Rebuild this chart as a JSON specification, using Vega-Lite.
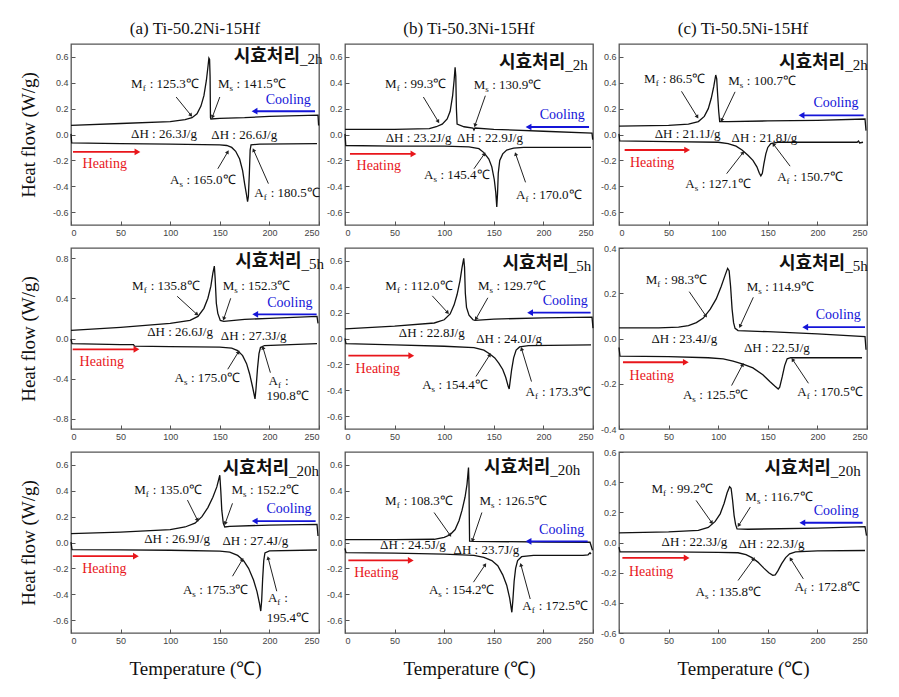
{
"$schema":"https://vega.github.io/schema/vega-lite/v6.json",
"padding":{"left":18,"top":19,"right":5,"bottom":5},
"config":{
 "view":{"stroke":"#555","strokeWidth":1.3},
 "axis":{"domain":false,"grid":false,"labelFont":"Liberation Sans","labelFontSize":9,"labelColor":"#444","tickColor":"#555","tickSize":-4,"labelPadding":7,"titleFont":"Liberation Serif","titleFontSize":19,"titleFontWeight":"normal","titleColor":"#111"},
 "axisY":{"titlePadding":14},
 "axisX":{"titlePadding":14},
 "title":{"font":"Liberation Serif","fontSize":17,"fontWeight":"normal","offset":6,"color":"#111"},
 "text":{"font":"Liberation Serif","fontSize":13,"baseline":"middle","color":"#111"}
},
"datasets":{
"curves":[
{"p":"a2","s":"c","x":0,"y":0.07},{"p":"a2","s":"c","x":50,"y":0.085},{"p":"a2","s":"c","x":100,"y":0.1},{"p":"a2","s":"c","x":115,"y":0.115},{"p":"a2","s":"c","x":122,"y":0.13},{"p":"a2","s":"c","x":127,"y":0.16},{"p":"a2","s":"c","x":131,"y":0.22},{"p":"a2","s":"c","x":134,"y":0.3},{"p":"a2","s":"c","x":136.5,"y":0.42},{"p":"a2","s":"c","x":138,"y":0.52},{"p":"a2","s":"c","x":139,"y":0.59},{"p":"a2","s":"c","x":139.7,"y":0.58},{"p":"a2","s":"c","x":140.2,"y":0.45},{"p":"a2","s":"c","x":140.6,"y":0.13},{"p":"a2","s":"c","x":141,"y":0.12},{"p":"a2","s":"c","x":150,"y":0.125},{"p":"a2","s":"c","x":175,"y":0.13},{"p":"a2","s":"c","x":200,"y":0.14},{"p":"a2","s":"c","x":249,"y":0.15},{"p":"a2","s":"c","x":249.6,"y":0.07},
{"p":"a2","s":"h","x":0,"y":0.005},{"p":"a2","s":"h","x":0.7,"y":-0.065},{"p":"a2","s":"h","x":50,"y":-0.07},{"p":"a2","s":"h","x":100,"y":-0.075},{"p":"a2","s":"h","x":150,"y":-0.08},{"p":"a2","s":"h","x":157,"y":-0.085},{"p":"a2","s":"h","x":162,"y":-0.1},{"p":"a2","s":"h","x":166,"y":-0.13},{"p":"a2","s":"h","x":170,"y":-0.19},{"p":"a2","s":"h","x":173,"y":-0.28},{"p":"a2","s":"h","x":175,"y":-0.38},{"p":"a2","s":"h","x":177,"y":-0.47},{"p":"a2","s":"h","x":178,"y":-0.52},{"p":"a2","s":"h","x":178.8,"y":-0.48},{"p":"a2","s":"h","x":179.8,"y":-0.3},{"p":"a2","s":"h","x":180.6,"y":-0.12},{"p":"a2","s":"h","x":181.5,"y":-0.08},{"p":"a2","s":"h","x":190,"y":-0.075},{"p":"a2","s":"h","x":248,"y":-0.07},
{"p":"b2","s":"c","x":0,"y":0.04},{"p":"b2","s":"c","x":50,"y":0.04},{"p":"b2","s":"c","x":85,"y":0.045},{"p":"b2","s":"c","x":92,"y":0.06},{"p":"b2","s":"c","x":98,"y":0.08},{"p":"b2","s":"c","x":103,"y":0.12},{"p":"b2","s":"c","x":106,"y":0.18},{"p":"b2","s":"c","x":108.5,"y":0.3},{"p":"b2","s":"c","x":110,"y":0.42},{"p":"b2","s":"c","x":111,"y":0.52},{"p":"b2","s":"c","x":111.7,"y":0.45},{"p":"b2","s":"c","x":112.3,"y":0.2},{"p":"b2","s":"c","x":113,"y":0.08},{"p":"b2","s":"c","x":120,"y":0.06},{"p":"b2","s":"c","x":129,"y":0.05},{"p":"b2","s":"c","x":130,"y":0.035},{"p":"b2","s":"c","x":131,"y":0.05},{"p":"b2","s":"c","x":150,"y":0.04},{"p":"b2","s":"c","x":200,"y":0.025},{"p":"b2","s":"c","x":249,"y":0.01},{"p":"b2","s":"c","x":249.7,"y":-0.04},
{"p":"b2","s":"h","x":0,"y":0.005},{"p":"b2","s":"h","x":0.8,"y":-0.085},{"p":"b2","s":"h","x":50,"y":-0.09},{"p":"b2","s":"h","x":100,"y":-0.09},{"p":"b2","s":"h","x":125,"y":-0.095},{"p":"b2","s":"h","x":135,"y":-0.11},{"p":"b2","s":"h","x":140,"y":-0.14},{"p":"b2","s":"h","x":145,"y":-0.19},{"p":"b2","s":"h","x":148,"y":-0.25},{"p":"b2","s":"h","x":150.5,"y":-0.35},{"p":"b2","s":"h","x":152,"y":-0.45},{"p":"b2","s":"h","x":153,"y":-0.56},{"p":"b2","s":"h","x":153.8,"y":-0.45},{"p":"b2","s":"h","x":154.5,"y":-0.3},{"p":"b2","s":"h","x":156,"y":-0.2},{"p":"b2","s":"h","x":159,"y":-0.15},{"p":"b2","s":"h","x":163,"y":-0.12},{"p":"b2","s":"h","x":170,"y":-0.105},{"p":"b2","s":"h","x":180,"y":-0.1},{"p":"b2","s":"h","x":248,"y":-0.1},
{"p":"c2","s":"c","x":0,"y":0.065},{"p":"c2","s":"c","x":50,"y":0.07},{"p":"c2","s":"c","x":70,"y":0.08},{"p":"c2","s":"c","x":80,"y":0.1},{"p":"c2","s":"c","x":86,"y":0.14},{"p":"c2","s":"c","x":90,"y":0.2},{"p":"c2","s":"c","x":93,"y":0.28},{"p":"c2","s":"c","x":95.5,"y":0.37},{"p":"c2","s":"c","x":97.5,"y":0.46},{"p":"c2","s":"c","x":98.5,"y":0.43},{"p":"c2","s":"c","x":99.5,"y":0.3},{"p":"c2","s":"c","x":100.5,"y":0.18},{"p":"c2","s":"c","x":101.5,"y":0.1},{"p":"c2","s":"c","x":110,"y":0.1},{"p":"c2","s":"c","x":150,"y":0.105},{"p":"c2","s":"c","x":200,"y":0.11},{"p":"c2","s":"c","x":248,"y":0.12},{"p":"c2","s":"c","x":249,"y":0.03},
{"p":"c2","s":"h","x":0,"y":0.005},{"p":"c2","s":"h","x":0.7,"y":-0.05},{"p":"c2","s":"h","x":50,"y":-0.055},{"p":"c2","s":"h","x":100,"y":-0.06},{"p":"c2","s":"h","x":110,"y":-0.07},{"p":"c2","s":"h","x":118,"y":-0.09},{"p":"c2","s":"h","x":124,"y":-0.12},{"p":"c2","s":"h","x":130,"y":-0.16},{"p":"c2","s":"h","x":135,"y":-0.2},{"p":"c2","s":"h","x":139,"y":-0.25},{"p":"c2","s":"h","x":141.5,"y":-0.3},{"p":"c2","s":"h","x":143,"y":-0.32},{"p":"c2","s":"h","x":144.5,"y":-0.3},{"p":"c2","s":"h","x":146,"y":-0.23},{"p":"c2","s":"h","x":148,"y":-0.15},{"p":"c2","s":"h","x":150,"y":-0.1},{"p":"c2","s":"h","x":153,"y":-0.07},{"p":"c2","s":"h","x":160,"y":-0.06},{"p":"c2","s":"h","x":240,"y":-0.06},{"p":"c2","s":"h","x":241.5,"y":-0.05},{"p":"c2","s":"h","x":242.5,"y":-0.065},{"p":"c2","s":"h","x":246,"y":-0.06},
{"p":"a5","s":"c","x":0,"y":0.08},{"p":"a5","s":"c","x":50,"y":0.11},{"p":"a5","s":"c","x":100,"y":0.15},{"p":"a5","s":"c","x":120,"y":0.18},{"p":"a5","s":"c","x":128,"y":0.22},{"p":"a5","s":"c","x":134,"y":0.3},{"p":"a5","s":"c","x":138,"y":0.4},{"p":"a5","s":"c","x":141,"y":0.52},{"p":"a5","s":"c","x":143,"y":0.65},{"p":"a5","s":"c","x":144.5,"y":0.72},{"p":"a5","s":"c","x":145.3,"y":0.6},{"p":"a5","s":"c","x":146.5,"y":0.35},{"p":"a5","s":"c","x":148,"y":0.25},{"p":"a5","s":"c","x":150.5,"y":0.18},{"p":"a5","s":"c","x":154,"y":0.17},{"p":"a5","s":"c","x":175,"y":0.19},{"p":"a5","s":"c","x":200,"y":0.2},{"p":"a5","s":"c","x":248,"y":0.22},{"p":"a5","s":"c","x":249,"y":0.15},
{"p":"a5","s":"h","x":0,"y":-0.005},{"p":"a5","s":"h","x":1,"y":-0.05},{"p":"a5","s":"h","x":50,"y":-0.06},{"p":"a5","s":"h","x":63,"y":-0.06},{"p":"a5","s":"h","x":64,"y":-0.075},{"p":"a5","s":"h","x":100,"y":-0.08},{"p":"a5","s":"h","x":150,"y":-0.085},{"p":"a5","s":"h","x":162,"y":-0.095},{"p":"a5","s":"h","x":168,"y":-0.12},{"p":"a5","s":"h","x":173,"y":-0.17},{"p":"a5","s":"h","x":177,"y":-0.25},{"p":"a5","s":"h","x":180,"y":-0.35},{"p":"a5","s":"h","x":183,"y":-0.48},{"p":"a5","s":"h","x":185.5,"y":-0.6},{"p":"a5","s":"h","x":186.5,"y":-0.5},{"p":"a5","s":"h","x":188,"y":-0.3},{"p":"a5","s":"h","x":189.5,"y":-0.15},{"p":"a5","s":"h","x":191,"y":-0.09},{"p":"a5","s":"h","x":195,"y":-0.07},{"p":"a5","s":"h","x":248,"y":-0.05},
{"p":"b5","s":"c","x":0,"y":0.075},{"p":"b5","s":"c","x":50,"y":0.095},{"p":"b5","s":"c","x":90,"y":0.12},{"p":"b5","s":"c","x":100,"y":0.145},{"p":"b5","s":"c","x":106,"y":0.19},{"p":"b5","s":"c","x":110,"y":0.26},{"p":"b5","s":"c","x":113,"y":0.34},{"p":"b5","s":"c","x":116,"y":0.45},{"p":"b5","s":"c","x":118,"y":0.55},{"p":"b5","s":"c","x":119.7,"y":0.62},{"p":"b5","s":"c","x":120.5,"y":0.55},{"p":"b5","s":"c","x":121.3,"y":0.35},{"p":"b5","s":"c","x":122.5,"y":0.24},{"p":"b5","s":"c","x":125,"y":0.18},{"p":"b5","s":"c","x":129,"y":0.145},{"p":"b5","s":"c","x":131,"y":0.14},{"p":"b5","s":"c","x":150,"y":0.15},{"p":"b5","s":"c","x":200,"y":0.16},{"p":"b5","s":"c","x":249,"y":0.165},{"p":"b5","s":"c","x":250,"y":0.08},
{"p":"b5","s":"h","x":0,"y":0.0},{"p":"b5","s":"h","x":1,"y":-0.04},{"p":"b5","s":"h","x":50,"y":-0.05},{"p":"b5","s":"h","x":100,"y":-0.06},{"p":"b5","s":"h","x":130,"y":-0.07},{"p":"b5","s":"h","x":140,"y":-0.09},{"p":"b5","s":"h","x":146,"y":-0.12},{"p":"b5","s":"h","x":151,"y":-0.15},{"p":"b5","s":"h","x":155,"y":-0.19},{"p":"b5","s":"h","x":159,"y":-0.24},{"p":"b5","s":"h","x":162,"y":-0.3},{"p":"b5","s":"h","x":164.5,"y":-0.37},{"p":"b5","s":"h","x":165.5,"y":-0.39},{"p":"b5","s":"h","x":166.5,"y":-0.33},{"p":"b5","s":"h","x":168,"y":-0.24},{"p":"b5","s":"h","x":170,"y":-0.15},{"p":"b5","s":"h","x":172.5,"y":-0.09},{"p":"b5","s":"h","x":176,"y":-0.065},{"p":"b5","s":"h","x":185,"y":-0.055},{"p":"b5","s":"h","x":248,"y":-0.05},
{"p":"c5","s":"c","x":0,"y":0.047},{"p":"c5","s":"c","x":40,"y":0.047},{"p":"c5","s":"c","x":60,"y":0.05},{"p":"c5","s":"c","x":70,"y":0.057},{"p":"c5","s":"c","x":78,"y":0.07},{"p":"c5","s":"c","x":85,"y":0.09},{"p":"c5","s":"c","x":92,"y":0.13},{"p":"c5","s":"c","x":98,"y":0.175},{"p":"c5","s":"c","x":103,"y":0.23},{"p":"c5","s":"c","x":107,"y":0.28},{"p":"c5","s":"c","x":109.5,"y":0.31},{"p":"c5","s":"c","x":111,"y":0.3},{"p":"c5","s":"c","x":112.5,"y":0.23},{"p":"c5","s":"c","x":114,"y":0.13},{"p":"c5","s":"c","x":115.5,"y":0.07},{"p":"c5","s":"c","x":117,"y":0.045},{"p":"c5","s":"c","x":120,"y":0.035},{"p":"c5","s":"c","x":150,"y":0.03},{"p":"c5","s":"c","x":200,"y":0.02},{"p":"c5","s":"c","x":248,"y":0.008},{"p":"c5","s":"c","x":249,"y":-0.05},
{"p":"c5","s":"h","x":0,"y":-0.04},{"p":"c5","s":"h","x":1,"y":-0.078},{"p":"c5","s":"h","x":50,"y":-0.08},{"p":"c5","s":"h","x":90,"y":-0.085},{"p":"c5","s":"h","x":105,"y":-0.09},{"p":"c5","s":"h","x":115,"y":-0.1},{"p":"c5","s":"h","x":125,"y":-0.113},{"p":"c5","s":"h","x":135,"y":-0.13},{"p":"c5","s":"h","x":145,"y":-0.16},{"p":"c5","s":"h","x":152,"y":-0.19},{"p":"c5","s":"h","x":157,"y":-0.21},{"p":"c5","s":"h","x":160.5,"y":-0.223},{"p":"c5","s":"h","x":162,"y":-0.215},{"p":"c5","s":"h","x":164.5,"y":-0.17},{"p":"c5","s":"h","x":167,"y":-0.12},{"p":"c5","s":"h","x":169.5,"y":-0.09},{"p":"c5","s":"h","x":173,"y":-0.085},{"p":"c5","s":"h","x":245,"y":-0.085},
{"p":"a20","s":"c","x":0,"y":0.068},{"p":"a20","s":"c","x":50,"y":0.08},{"p":"a20","s":"c","x":100,"y":0.1},{"p":"a20","s":"c","x":115,"y":0.12},{"p":"a20","s":"c","x":125,"y":0.15},{"p":"a20","s":"c","x":132,"y":0.2},{"p":"a20","s":"c","x":138,"y":0.27},{"p":"a20","s":"c","x":143,"y":0.35},{"p":"a20","s":"c","x":147,"y":0.43},{"p":"a20","s":"c","x":150,"y":0.52},{"p":"a20","s":"c","x":151,"y":0.4},{"p":"a20","s":"c","x":152,"y":0.25},{"p":"a20","s":"c","x":153.5,"y":0.15},{"p":"a20","s":"c","x":155,"y":0.12},{"p":"a20","s":"c","x":160,"y":0.125},{"p":"a20","s":"c","x":200,"y":0.135},{"p":"a20","s":"c","x":248,"y":0.14},{"p":"a20","s":"c","x":249,"y":0.05},
{"p":"a20","s":"h","x":0,"y":0.003},{"p":"a20","s":"h","x":1,"y":-0.055},{"p":"a20","s":"h","x":50,"y":-0.057},{"p":"a20","s":"h","x":100,"y":-0.06},{"p":"a20","s":"h","x":150,"y":-0.066},{"p":"a20","s":"h","x":160,"y":-0.075},{"p":"a20","s":"h","x":168,"y":-0.1},{"p":"a20","s":"h","x":174,"y":-0.14},{"p":"a20","s":"h","x":179,"y":-0.2},{"p":"a20","s":"h","x":184,"y":-0.29},{"p":"a20","s":"h","x":187.5,"y":-0.38},{"p":"a20","s":"h","x":190,"y":-0.47},{"p":"a20","s":"h","x":191.3,"y":-0.53},{"p":"a20","s":"h","x":192.2,"y":-0.45},{"p":"a20","s":"h","x":193.2,"y":-0.28},{"p":"a20","s":"h","x":194.3,"y":-0.14},{"p":"a20","s":"h","x":195.5,"y":-0.08},{"p":"a20","s":"h","x":200,"y":-0.065},{"p":"a20","s":"h","x":248,"y":-0.058},
{"p":"b20","s":"c","x":0,"y":0.022},{"p":"b20","s":"c","x":50,"y":0.022},{"p":"b20","s":"c","x":90,"y":0.025},{"p":"b20","s":"c","x":100,"y":0.04},{"p":"b20","s":"c","x":106,"y":0.06},{"p":"b20","s":"c","x":111,"y":0.1},{"p":"b20","s":"c","x":115,"y":0.17},{"p":"b20","s":"c","x":118,"y":0.25},{"p":"b20","s":"c","x":121,"y":0.35},{"p":"b20","s":"c","x":123,"y":0.45},{"p":"b20","s":"c","x":124.5,"y":0.58},{"p":"b20","s":"c","x":125,"y":0.45},{"p":"b20","s":"c","x":125.3,"y":0.2},{"p":"b20","s":"c","x":125.6,"y":0.01},{"p":"b20","s":"c","x":130,"y":0.008},{"p":"b20","s":"c","x":200,"y":0.004},{"p":"b20","s":"c","x":247,"y":0.002},{"p":"b20","s":"c","x":249.5,"y":-0.06},
{"p":"b20","s":"h","x":0,"y":-0.045},{"p":"b20","s":"h","x":1,"y":-0.078},{"p":"b20","s":"h","x":50,"y":-0.082},{"p":"b20","s":"h","x":100,"y":-0.09},{"p":"b20","s":"h","x":130,"y":-0.1},{"p":"b20","s":"h","x":140,"y":-0.115},{"p":"b20","s":"h","x":148,"y":-0.14},{"p":"b20","s":"h","x":154,"y":-0.18},{"p":"b20","s":"h","x":159,"y":-0.25},{"p":"b20","s":"h","x":163,"y":-0.33},{"p":"b20","s":"h","x":166,"y":-0.43},{"p":"b20","s":"h","x":168.2,"y":-0.54},{"p":"b20","s":"h","x":169.2,"y":-0.45},{"p":"b20","s":"h","x":170.5,"y":-0.3},{"p":"b20","s":"h","x":172,"y":-0.2},{"p":"b20","s":"h","x":174,"y":-0.14},{"p":"b20","s":"h","x":178,"y":-0.11},{"p":"b20","s":"h","x":190,"y":-0.1},{"p":"b20","s":"h","x":240,"y":-0.1},{"p":"b20","s":"h","x":245,"y":-0.095},{"p":"b20","s":"h","x":247,"y":-0.08},{"p":"b20","s":"h","x":248,"y":-0.09},
{"p":"c20","s":"c","x":0,"y":0.064},{"p":"c20","s":"c","x":50,"y":0.07},{"p":"c20","s":"c","x":80,"y":0.08},{"p":"c20","s":"c","x":90,"y":0.1},{"p":"c20","s":"c","x":97,"y":0.14},{"p":"c20","s":"c","x":102,"y":0.19},{"p":"c20","s":"c","x":106,"y":0.26},{"p":"c20","s":"c","x":109,"y":0.33},{"p":"c20","s":"c","x":111.5,"y":0.37},{"p":"c20","s":"c","x":113,"y":0.36},{"p":"c20","s":"c","x":114.5,"y":0.28},{"p":"c20","s":"c","x":116,"y":0.18},{"p":"c20","s":"c","x":117.5,"y":0.12},{"p":"c20","s":"c","x":119,"y":0.09},{"p":"c20","s":"c","x":130,"y":0.088},{"p":"c20","s":"c","x":200,"y":0.095},{"p":"c20","s":"c","x":248,"y":0.105},{"p":"c20","s":"c","x":249.5,"y":0.045},
{"p":"c20","s":"h","x":0,"y":-0.03},{"p":"c20","s":"h","x":1,"y":-0.062},{"p":"c20","s":"h","x":50,"y":-0.062},{"p":"c20","s":"h","x":100,"y":-0.065},{"p":"c20","s":"h","x":120,"y":-0.068},{"p":"c20","s":"h","x":128,"y":-0.08},{"p":"c20","s":"h","x":134,"y":-0.1},{"p":"c20","s":"h","x":140,"y":-0.13},{"p":"c20","s":"h","x":146,"y":-0.17},{"p":"c20","s":"h","x":151,"y":-0.2},{"p":"c20","s":"h","x":155,"y":-0.218},{"p":"c20","s":"h","x":157.5,"y":-0.215},{"p":"c20","s":"h","x":160,"y":-0.19},{"p":"c20","s":"h","x":164,"y":-0.14},{"p":"c20","s":"h","x":168,"y":-0.1},{"p":"c20","s":"h","x":172,"y":-0.075},{"p":"c20","s":"h","x":178,"y":-0.062},{"p":"c20","s":"h","x":200,"y":-0.056},{"p":"c20","s":"h","x":248,"y":-0.053}
],
"arrows":[
{"p":"a2","x":106,"y":0.29,"x2":121,"y2":0.148},{"p":"a2","x":150,"y":0.29,"x2":142.5,"y2":0.135},{"p":"a2","x":148,"y":-0.265,"x2":158,"y2":-0.135},{"p":"a2","x":199,"y":-0.38,"x2":184,"y2":-0.12},
{"p":"b2","x":79,"y":0.29,"x2":94,"y2":0.1},{"p":"b2","x":141.5,"y":0.3,"x2":131,"y2":0.07},{"p":"b2","x":130,"y":-0.265,"x2":140.5,"y2":-0.15},{"p":"b2","x":182,"y":-0.37,"x2":172,"y2":-0.15},
{"p":"c2","x":63,"y":0.334,"x2":79,"y2":0.135},{"p":"c2","x":117,"y":0.33,"x2":103.4,"y2":0.11},{"p":"c2","x":108.5,"y":-0.303,"x2":125,"y2":-0.14},{"p":"c2","x":172.5,"y":-0.245,"x2":155.7,"y2":-0.075},
{"p":"a5","x":107,"y":0.42,"x2":127,"y2":0.24},{"p":"a5","x":161,"y":0.4,"x2":154,"y2":0.196},{"p":"a5","x":158,"y":-0.306,"x2":168.8,"y2":-0.134},{"p":"a5","x":201,"y":-0.34,"x2":193.5,"y2":-0.09},
{"p":"b5","x":88,"y":0.33,"x2":103.5,"y2":0.2},{"p":"b5","x":144,"y":0.315,"x2":132,"y2":0.152},{"p":"b5","x":132,"y":-0.294,"x2":146,"y2":-0.126},{"p":"b5","x":188,"y":-0.333,"x2":178,"y2":-0.08},
{"p":"c5","x":70.8,"y":0.207,"x2":87.6,"y2":0.1},{"p":"c5","x":135.4,"y":0.182,"x2":122,"y2":0.054},{"p":"c5","x":113.5,"y":-0.208,"x2":124.7,"y2":-0.115},{"p":"c5","x":191,"y":-0.198,"x2":175,"y2":-0.093},
{"p":"a20","x":117.4,"y":0.328,"x2":127.5,"y2":0.173},{"p":"a20","x":162.8,"y":0.303,"x2":155.4,"y2":0.147},{"p":"a20","x":162.8,"y":-0.261,"x2":172.8,"y2":-0.132},{"p":"a20","x":207.4,"y":-0.377,"x2":198.7,"y2":-0.12},
{"p":"b20","x":89.8,"y":0.232,"x2":106,"y2":0.056},{"p":"b20","x":138,"y":0.232,"x2":128.5,"y2":0.017},{"p":"b20","x":129.5,"y":-0.307,"x2":141.3,"y2":-0.172},{"p":"b20","x":186.7,"y":-0.437,"x2":177.3,"y2":-0.172},
{"p":"c20","x":77.7,"y":0.279,"x2":93.6,"y2":0.131},{"p":"c20","x":132.4,"y":0.235,"x2":120.6,"y2":0.113},{"p":"c20","x":120,"y":-0.252,"x2":135.8,"y2":-0.108},{"p":"c20","x":185.8,"y":-0.241,"x2":173,"y2":-0.108}
],
"hc":[
{"p":"a2","d":"Heating","x":2,"x2":67,"y":-0.135},{"p":"a2","d":"Cooling","x":246,"x2":185,"y":0.18},
{"p":"b2","d":"Heating","x":5,"x2":69,"y":-0.15},{"p":"b2","d":"Cooling","x":246,"x2":185,"y":0.058},
{"p":"c2","d":"Heating","x":5.7,"x2":68.7,"y":-0.12},{"p":"c2","d":"Cooling","x":246.6,"x2":184,"y":0.148},
{"p":"a5","d":"Heating","x":1.7,"x2":66,"y":-0.108},{"p":"a5","d":"Cooling","x":247.6,"x2":185.7,"y":0.24},
{"p":"b5","d":"Heating","x":3.4,"x2":66.8,"y":-0.133},{"p":"b5","d":"Cooling","x":247.6,"x2":186.6,"y":0.2},
{"p":"c5","d":"Heating","x":4,"x2":67.4,"y":-0.105},{"p":"c5","d":"Cooling","x":248,"x2":187.7,"y":0.05},
{"p":"a20","d":"Heating","x":1.7,"x2":65.4,"y":-0.106},{"p":"a20","d":"Cooling","x":246.6,"x2":185.2,"y":0.166},
{"p":"b20","d":"Heating","x":3.4,"x2":66.3,"y":-0.139},{"p":"b20","d":"Cooling","x":244.6,"x2":185,"y":0.009},
{"p":"c20","d":"Heating","x":3.4,"x2":68.2,"y":-0.102},{"p":"c20","d":"Cooling","x":245.6,"x2":184.8,"y":0.131}
],
"ht":[
{"p":"a2","d":"Heating","x":34,"y":-0.23},{"p":"a2","d":"Cooling","x":219,"y":0.27},
{"p":"b2","d":"Heating","x":34,"y":-0.24},{"p":"b2","d":"Cooling","x":219,"y":0.15},
{"p":"c2","d":"Heating","x":33.4,"y":-0.218},{"p":"c2","d":"Cooling","x":218.7,"y":0.246},
{"p":"a5","d":"Heating","x":31,"y":-0.233},{"p":"a5","d":"Cooling","x":220.6,"y":0.355},
{"p":"b5","d":"Heating","x":33,"y":-0.237},{"p":"b5","d":"Cooling","x":222,"y":0.29},
{"p":"c5","d":"Heating","x":33,"y":-0.164},{"p":"c5","d":"Cooling","x":221,"y":0.104},
{"p":"a20","d":"Heating","x":33.6,"y":-0.204},{"p":"a20","d":"Cooling","x":219.8,"y":0.26},
{"p":"b20","d":"Heating","x":31.6,"y":-0.235},{"p":"b20","d":"Cooling","x":218.4,"y":0.095},
{"p":"c20","d":"Heating","x":32.4,"y":-0.193},{"p":"c20","d":"Cooling","x":219,"y":0.206}
],
"labs":[
{"p":"a2","pre":"M","sub":"f","t":": 125.3℃","x":79.3,"y":0.39},{"p":"a2","pre":"M","sub":"s","t":": 141.5℃","x":166.9,"y":0.39},{"p":"a2","t":"ΔH : 26.3J/g","x":60.6,"y":0.006},{"p":"a2","t":"ΔH : 26.6J/g","x":141.5,"y":0.0},{"p":"a2","pre":"A","sub":"s","t":": 165.0℃","x":116.4,"y":-0.355},{"p":"a2","pre":"A","sub":"f","t":": 180.5℃","x":201.3,"y":-0.45},
{"p":"b2","pre":"M","sub":"f","t":": 99.3℃","x":59.1,"y":0.39},{"p":"b2","pre":"M","sub":"s","t":": 130.9℃","x":148.4,"y":0.386},{"p":"b2","t":"ΔH : 23.2J/g","x":41,"y":-0.03},{"p":"b2","t":"ΔH : 22.9J/g","x":113,"y":-0.03},{"p":"b2","pre":"A","sub":"s","t":": 145.4℃","x":96.2,"y":-0.316},{"p":"b2","pre":"A","sub":"f","t":": 170.0℃","x":188.9,"y":-0.466},
{"p":"c2","pre":"M","sub":"f","t":": 86.5℃","x":44,"y":0.43},{"p":"c2","pre":"M","sub":"s","t":": 100.7℃","x":128.9,"y":0.41},{"p":"c2","t":"ΔH : 21.1J/g","x":36,"y":0.006},{"p":"c2","t":"ΔH : 21.8J/g","x":113.5,"y":-0.03},{"p":"c2","pre":"A","sub":"s","t":": 127.1℃","x":83.4,"y":-0.38},{"p":"c2","pre":"A","sub":"f","t":": 150.7℃","x":176,"y":-0.33},
{"p":"a5","pre":"M","sub":"f","t":": 135.8℃","x":80.3,"y":0.52},{"p":"a5","pre":"M","sub":"s","t":": 152.3℃","x":171.6,"y":0.52},{"p":"a5","t":"ΔH : 26.6J/g","x":76.8,"y":0.06},{"p":"a5","t":"ΔH : 27.3J/g","x":151,"y":0.025},{"p":"a5","pre":"A","sub":"s","t":": 175.0℃","x":120.9,"y":-0.388},{"p":"a5","pre":"A","sub":"f","t":":","x":215.6,"y":-0.42},{"p":"a5","t":"190.8℃","x":197,"y":-0.576},
{"p":"b5","pre":"M","sub":"f","t":": 112.0℃","x":59.4,"y":0.405},{"p":"b5","pre":"M","sub":"s","t":": 129.7℃","x":152.7,"y":0.405},{"p":"b5","t":"ΔH : 22.8J/g","x":54.3,"y":0.043},{"p":"b5","t":"ΔH : 24.0J/g","x":132.3,"y":0.0},{"p":"b5","pre":"A","sub":"s","t":": 154.4℃","x":94.3,"y":-0.36},{"p":"b5","pre":"A","sub":"f","t":": 173.3℃","x":198.5,"y":-0.41},
{"p":"c5","pre":"M","sub":"f","t":": 98.3℃","x":45.7,"y":0.259},{"p":"c5","pre":"M","sub":"s","t":": 114.9℃","x":147.4,"y":0.226},{"p":"c5","t":"ΔH : 23.4J/g","x":32.7,"y":0.0},{"p":"c5","t":"ΔH : 22.5J/g","x":126,"y":-0.043},{"p":"c5","pre":"A","sub":"s","t":": 125.5℃","x":81,"y":-0.25},{"p":"c5","pre":"A","sub":"f","t":": 170.5℃","x":196.3,"y":-0.238},
{"p":"a20","pre":"M","sub":"f","t":": 135.0℃","x":82.5,"y":0.406},{"p":"a20","pre":"M","sub":"s","t":": 152.2℃","x":180.4,"y":0.406},{"p":"a20","t":"ΔH : 26.9J/g","x":73.8,"y":0.029},{"p":"a20","t":"ΔH : 27.4J/g","x":152.7,"y":0.01},{"p":"a20","pre":"A","sub":"s","t":": 175.3℃","x":129.4,"y":-0.365},{"p":"a20","pre":"A","sub":"f","t":":","x":215,"y":-0.43},{"p":"a20","t":"195.4℃","x":197.3,"y":-0.584},
{"p":"b20","pre":"M","sub":"f","t":": 108.3℃","x":59.1,"y":0.32},{"p":"b20","pre":"M","sub":"s","t":": 126.5℃","x":154.3,"y":0.32},{"p":"b20","t":"ΔH : 24.5J/g","x":35.3,"y":-0.022},{"p":"b20","t":"ΔH : 23.7J/g","x":109.4,"y":-0.061},{"p":"b20","pre":"A","sub":"s","t":": 154.2℃","x":101.1,"y":-0.364},{"p":"b20","pre":"A","sub":"f","t":": 172.5℃","x":195.3,"y":-0.494},
{"p":"c20","pre":"M","sub":"f","t":": 99.2℃","x":51.5,"y":0.352},{"p":"c20","pre":"M","sub":"s","t":": 116.7℃","x":146.1,"y":0.3},{"p":"c20","t":"ΔH : 22.3J/g","x":42.9,"y":0.002},{"p":"c20","t":"ΔH : 22.3J/g","x":120.6,"y":-0.009},{"p":"c20","pre":"A","sub":"s","t":": 135.8℃","x":93.7,"y":-0.325},{"p":"c20","pre":"A","sub":"f","t":": 172.8℃","x":193.4,"y":-0.297}
],
"tags":[
{"p":"a2","x":230.8,"y":0.6,"a":"시효처리","b":"_2h"},{"p":"b2","x":222,"y":0.55,"a":"시효처리","b":"_2h"},{"p":"c2","x":228,"y":0.55,"a":"시효처리","b":"_2h"},
{"p":"a5","x":232.4,"y":0.757,"a":"시효처리","b":"_5h"},{"p":"b5","x":225.6,"y":0.574,"a":"시효처리","b":"_5h"},{"p":"c5","x":228,"y":0.33,"a":"시효처리","b":"_5h"},
{"p":"a20","x":219.8,"y":0.566,"a":"시효처리","b":"_20h"},{"p":"b20","x":207,"y":0.574,"a":"시효처리","b":"_20h"},{"p":"c20","x":213.5,"y":0.489,"a":"시효처리","b":"_20h"}
]
},
"vconcat":[
{"hconcat":[
{"width":248,"height":181,"title":"(a) Ti-50.2Ni-15Hf",
 "encoding":{"x":{"field":"x","type":"quantitative","scale":{"domain":[0,250],"nice":false},"axis":{"values":[0,50,100,150,200,250],"title":null}},
  "y":{"field":"y","type":"quantitative","scale":{"domain":[-0.7,0.7],"nice":false,"zero":false},"axis":{"values":[-0.6,-0.4,-0.2,0,0.2,0.4,0.6],"labelExpr":"replace(format(datum.value,'.1f'),'\u2212','-')","title":"Heat flow (W/g)"}}},
 "layer":[
  {"data":{"name":"curves"},"transform":[{"filter":"datum.p=='a2'"}],"mark":{"type":"line","color":"#111","strokeWidth":1.3},"encoding":{"detail":{"field":"s"}}},
  {"data":{"name":"arrows"},"transform":[{"filter":"datum.p=='a2'"}],"mark":{"type":"rule","color":"#222","strokeWidth":1},"encoding":{"x2":{"field":"x2"},"y2":{"field":"y2"}}},
  {"data":{"name":"arrows"},"transform":[{"filter":"datum.p=='a2'"},{"calculate":"atan2((datum.x2-datum.x)*0.992,(datum.y2-datum.y)*129.3)*180/PI","as":"ang"},{"calculate":"datum.x2","as":"x"},{"calculate":"datum.y2","as":"y"}],"mark":{"type":"point","shape":"triangle-up","filled":true,"color":"#222","size":18,"opacity":1},"encoding":{"angle":{"field":"ang","type":"quantitative","scale":null}}},
  {"data":{"name":"hc"},"transform":[{"filter":"datum.p=='a2'"}],"mark":{"type":"rule","strokeWidth":1.8},"encoding":{"x2":{"field":"x2"},"color":{"field":"d","type":"nominal","scale":{"domain":["Heating","Cooling"],"range":["#e8161b","#1515d8"]},"legend":null}}},
  {"data":{"name":"hc"},"transform":[{"filter":"datum.p=='a2'"},{"calculate":"datum.x2","as":"x"}],"mark":{"type":"point","filled":true,"size":45,"opacity":1},"encoding":{"color":{"field":"d","type":"nominal","scale":{"domain":["Heating","Cooling"],"range":["#e8161b","#1515d8"]},"legend":null},"shape":{"field":"d","type":"nominal","scale":{"domain":["Heating","Cooling"],"range":["triangle-right","triangle-left"]},"legend":null}}},
  {"data":{"name":"ht"},"transform":[{"filter":"datum.p=='a2'"}],"mark":{"type":"text","fontSize":14},"encoding":{"text":{"field":"d"},"color":{"field":"d","type":"nominal","scale":{"domain":["Heating","Cooling"],"range":["#e8161b","#1515d8"]},"legend":null}}},
  {"data":{"name":"labs"},"transform":[{"filter":"datum.p=='a2' && datum.pre"}],"mark":{"type":"text","align":"right","dx":-7},"encoding":{"text":{"field":"pre"}}},
  {"data":{"name":"labs"},"transform":[{"filter":"datum.p=='a2' && datum.sub"}],"mark":{"type":"text","align":"left","dx":-7,"dy":4,"fontSize":9},"encoding":{"text":{"field":"sub"}}},
  {"data":{"name":"labs"},"transform":[{"filter":"datum.p=='a2'"}],"mark":{"type":"text","align":"left"},"encoding":{"text":{"field":"t"}}},
  {"data":{"name":"tags"},"transform":[{"filter":"datum.p=='a2'"}],"mark":{"type":"text","align":"right","font":"Noto Sans CJK KR","fontWeight":"bold","fontSize":18},"encoding":{"text":{"field":"a"}}},
  {"data":{"name":"tags"},"transform":[{"filter":"datum.p=='a2'"}],"mark":{"type":"text","align":"left","fontSize":15,"dy":2},"encoding":{"text":{"field":"b"}}}
 ]},
{"width":248,"height":181,"title":"(b) Ti-50.3Ni-15Hf",
 "encoding":{"x":{"field":"x","type":"quantitative","scale":{"domain":[0,250],"nice":false},"axis":{"values":[0,50,100,150,200,250],"title":null}},
  "y":{"field":"y","type":"quantitative","scale":{"domain":[-0.7,0.7],"nice":false,"zero":false},"axis":{"values":[-0.6,-0.4,-0.2,0,0.2,0.4,0.6],"labelExpr":"replace(format(datum.value,'.1f'),'\u2212','-')","title":null}}},
 "layer":[
  {"data":{"name":"curves"},"transform":[{"filter":"datum.p=='b2'"}],"mark":{"type":"line","color":"#111","strokeWidth":1.3},"encoding":{"detail":{"field":"s"}}},
  {"data":{"name":"arrows"},"transform":[{"filter":"datum.p=='b2'"}],"mark":{"type":"rule","color":"#222","strokeWidth":1},"encoding":{"x2":{"field":"x2"},"y2":{"field":"y2"}}},
  {"data":{"name":"arrows"},"transform":[{"filter":"datum.p=='b2'"},{"calculate":"atan2((datum.x2-datum.x)*0.992,(datum.y2-datum.y)*129.3)*180/PI","as":"ang"},{"calculate":"datum.x2","as":"x"},{"calculate":"datum.y2","as":"y"}],"mark":{"type":"point","shape":"triangle-up","filled":true,"color":"#222","size":18,"opacity":1},"encoding":{"angle":{"field":"ang","type":"quantitative","scale":null}}},
  {"data":{"name":"hc"},"transform":[{"filter":"datum.p=='b2'"}],"mark":{"type":"rule","strokeWidth":1.8},"encoding":{"x2":{"field":"x2"},"color":{"field":"d","type":"nominal","scale":{"domain":["Heating","Cooling"],"range":["#e8161b","#1515d8"]},"legend":null}}},
  {"data":{"name":"hc"},"transform":[{"filter":"datum.p=='b2'"},{"calculate":"datum.x2","as":"x"}],"mark":{"type":"point","filled":true,"size":45,"opacity":1},"encoding":{"color":{"field":"d","type":"nominal","scale":{"domain":["Heating","Cooling"],"range":["#e8161b","#1515d8"]},"legend":null},"shape":{"field":"d","type":"nominal","scale":{"domain":["Heating","Cooling"],"range":["triangle-right","triangle-left"]},"legend":null}}},
  {"data":{"name":"ht"},"transform":[{"filter":"datum.p=='b2'"}],"mark":{"type":"text","fontSize":14},"encoding":{"text":{"field":"d"},"color":{"field":"d","type":"nominal","scale":{"domain":["Heating","Cooling"],"range":["#e8161b","#1515d8"]},"legend":null}}},
  {"data":{"name":"labs"},"transform":[{"filter":"datum.p=='b2' && datum.pre"}],"mark":{"type":"text","align":"right","dx":-7},"encoding":{"text":{"field":"pre"}}},
  {"data":{"name":"labs"},"transform":[{"filter":"datum.p=='b2' && datum.sub"}],"mark":{"type":"text","align":"left","dx":-7,"dy":4,"fontSize":9},"encoding":{"text":{"field":"sub"}}},
  {"data":{"name":"labs"},"transform":[{"filter":"datum.p=='b2'"}],"mark":{"type":"text","align":"left"},"encoding":{"text":{"field":"t"}}},
  {"data":{"name":"tags"},"transform":[{"filter":"datum.p=='b2'"}],"mark":{"type":"text","align":"right","font":"Noto Sans CJK KR","fontWeight":"bold","fontSize":18},"encoding":{"text":{"field":"a"}}},
  {"data":{"name":"tags"},"transform":[{"filter":"datum.p=='b2'"}],"mark":{"type":"text","align":"left","fontSize":15,"dy":2},"encoding":{"text":{"field":"b"}}}
 ]},
{"width":248,"height":181,"title":"(c) Ti-50.5Ni-15Hf",
 "encoding":{"x":{"field":"x","type":"quantitative","scale":{"domain":[0,250],"nice":false},"axis":{"values":[0,50,100,150,200,250],"title":null}},
  "y":{"field":"y","type":"quantitative","scale":{"domain":[-0.7,0.7],"nice":false,"zero":false},"axis":{"values":[-0.6,-0.4,-0.2,0,0.2,0.4,0.6],"labelExpr":"replace(format(datum.value,'.1f'),'\u2212','-')","title":null}}},
 "layer":[
  {"data":{"name":"curves"},"transform":[{"filter":"datum.p=='c2'"}],"mark":{"type":"line","color":"#111","strokeWidth":1.3},"encoding":{"detail":{"field":"s"}}},
  {"data":{"name":"arrows"},"transform":[{"filter":"datum.p=='c2'"}],"mark":{"type":"rule","color":"#222","strokeWidth":1},"encoding":{"x2":{"field":"x2"},"y2":{"field":"y2"}}},
  {"data":{"name":"arrows"},"transform":[{"filter":"datum.p=='c2'"},{"calculate":"atan2((datum.x2-datum.x)*0.992,(datum.y2-datum.y)*129.3)*180/PI","as":"ang"},{"calculate":"datum.x2","as":"x"},{"calculate":"datum.y2","as":"y"}],"mark":{"type":"point","shape":"triangle-up","filled":true,"color":"#222","size":18,"opacity":1},"encoding":{"angle":{"field":"ang","type":"quantitative","scale":null}}},
  {"data":{"name":"hc"},"transform":[{"filter":"datum.p=='c2'"}],"mark":{"type":"rule","strokeWidth":1.8},"encoding":{"x2":{"field":"x2"},"color":{"field":"d","type":"nominal","scale":{"domain":["Heating","Cooling"],"range":["#e8161b","#1515d8"]},"legend":null}}},
  {"data":{"name":"hc"},"transform":[{"filter":"datum.p=='c2'"},{"calculate":"datum.x2","as":"x"}],"mark":{"type":"point","filled":true,"size":45,"opacity":1},"encoding":{"color":{"field":"d","type":"nominal","scale":{"domain":["Heating","Cooling"],"range":["#e8161b","#1515d8"]},"legend":null},"shape":{"field":"d","type":"nominal","scale":{"domain":["Heating","Cooling"],"range":["triangle-right","triangle-left"]},"legend":null}}},
  {"data":{"name":"ht"},"transform":[{"filter":"datum.p=='c2'"}],"mark":{"type":"text","fontSize":14},"encoding":{"text":{"field":"d"},"color":{"field":"d","type":"nominal","scale":{"domain":["Heating","Cooling"],"range":["#e8161b","#1515d8"]},"legend":null}}},
  {"data":{"name":"labs"},"transform":[{"filter":"datum.p=='c2' && datum.pre"}],"mark":{"type":"text","align":"right","dx":-7},"encoding":{"text":{"field":"pre"}}},
  {"data":{"name":"labs"},"transform":[{"filter":"datum.p=='c2' && datum.sub"}],"mark":{"type":"text","align":"left","dx":-7,"dy":4,"fontSize":9},"encoding":{"text":{"field":"sub"}}},
  {"data":{"name":"labs"},"transform":[{"filter":"datum.p=='c2'"}],"mark":{"type":"text","align":"left"},"encoding":{"text":{"field":"t"}}},
  {"data":{"name":"tags"},"transform":[{"filter":"datum.p=='c2'"}],"mark":{"type":"text","align":"right","font":"Noto Sans CJK KR","fontWeight":"bold","fontSize":18},"encoding":{"text":{"field":"a"}}},
  {"data":{"name":"tags"},"transform":[{"filter":"datum.p=='c2'"}],"mark":{"type":"text","align":"left","fontSize":15,"dy":2},"encoding":{"text":{"field":"b"}}}
 ]}
],"spacing":26,"bounds":"flush"},
{"hconcat":[
{"width":248,"height":181,
 "encoding":{"x":{"field":"x","type":"quantitative","scale":{"domain":[0,250],"nice":false},"axis":{"values":[0,50,100,150,200,250],"title":null}},
  "y":{"field":"y","type":"quantitative","scale":{"domain":[-0.9,0.9],"nice":false,"zero":false},"axis":{"values":[-0.8,-0.4,0,0.4,0.8],"labelExpr":"replace(format(datum.value,'.1f'),'\u2212','-')","title":"Heat flow (W/g)"}}},
 "layer":[
  {"data":{"name":"curves"},"transform":[{"filter":"datum.p=='a5'"}],"mark":{"type":"line","color":"#111","strokeWidth":1.3},"encoding":{"detail":{"field":"s"}}},
  {"data":{"name":"arrows"},"transform":[{"filter":"datum.p=='a5'"}],"mark":{"type":"rule","color":"#222","strokeWidth":1},"encoding":{"x2":{"field":"x2"},"y2":{"field":"y2"}}},
  {"data":{"name":"arrows"},"transform":[{"filter":"datum.p=='a5'"},{"calculate":"atan2((datum.x2-datum.x)*0.992,(datum.y2-datum.y)*100.6)*180/PI","as":"ang"},{"calculate":"datum.x2","as":"x"},{"calculate":"datum.y2","as":"y"}],"mark":{"type":"point","shape":"triangle-up","filled":true,"color":"#222","size":18,"opacity":1},"encoding":{"angle":{"field":"ang","type":"quantitative","scale":null}}},
  {"data":{"name":"hc"},"transform":[{"filter":"datum.p=='a5'"}],"mark":{"type":"rule","strokeWidth":1.8},"encoding":{"x2":{"field":"x2"},"color":{"field":"d","type":"nominal","scale":{"domain":["Heating","Cooling"],"range":["#e8161b","#1515d8"]},"legend":null}}},
  {"data":{"name":"hc"},"transform":[{"filter":"datum.p=='a5'"},{"calculate":"datum.x2","as":"x"}],"mark":{"type":"point","filled":true,"size":45,"opacity":1},"encoding":{"color":{"field":"d","type":"nominal","scale":{"domain":["Heating","Cooling"],"range":["#e8161b","#1515d8"]},"legend":null},"shape":{"field":"d","type":"nominal","scale":{"domain":["Heating","Cooling"],"range":["triangle-right","triangle-left"]},"legend":null}}},
  {"data":{"name":"ht"},"transform":[{"filter":"datum.p=='a5'"}],"mark":{"type":"text","fontSize":14},"encoding":{"text":{"field":"d"},"color":{"field":"d","type":"nominal","scale":{"domain":["Heating","Cooling"],"range":["#e8161b","#1515d8"]},"legend":null}}},
  {"data":{"name":"labs"},"transform":[{"filter":"datum.p=='a5' && datum.pre"}],"mark":{"type":"text","align":"right","dx":-7},"encoding":{"text":{"field":"pre"}}},
  {"data":{"name":"labs"},"transform":[{"filter":"datum.p=='a5' && datum.sub"}],"mark":{"type":"text","align":"left","dx":-7,"dy":4,"fontSize":9},"encoding":{"text":{"field":"sub"}}},
  {"data":{"name":"labs"},"transform":[{"filter":"datum.p=='a5'"}],"mark":{"type":"text","align":"left"},"encoding":{"text":{"field":"t"}}},
  {"data":{"name":"tags"},"transform":[{"filter":"datum.p=='a5'"}],"mark":{"type":"text","align":"right","font":"Noto Sans CJK KR","fontWeight":"bold","fontSize":18},"encoding":{"text":{"field":"a"}}},
  {"data":{"name":"tags"},"transform":[{"filter":"datum.p=='a5'"}],"mark":{"type":"text","align":"left","fontSize":15,"dy":2},"encoding":{"text":{"field":"b"}}}
 ]},
{"width":248,"height":181,
 "encoding":{"x":{"field":"x","type":"quantitative","scale":{"domain":[0,250],"nice":false},"axis":{"values":[0,50,100,150,200,250],"title":null}},
  "y":{"field":"y","type":"quantitative","scale":{"domain":[-0.7,0.7],"nice":false,"zero":false},"axis":{"values":[-0.6,-0.4,-0.2,0,0.2,0.4,0.6],"labelExpr":"replace(format(datum.value,'.1f'),'\u2212','-')","title":null}}},
 "layer":[
  {"data":{"name":"curves"},"transform":[{"filter":"datum.p=='b5'"}],"mark":{"type":"line","color":"#111","strokeWidth":1.3},"encoding":{"detail":{"field":"s"}}},
  {"data":{"name":"arrows"},"transform":[{"filter":"datum.p=='b5'"}],"mark":{"type":"rule","color":"#222","strokeWidth":1},"encoding":{"x2":{"field":"x2"},"y2":{"field":"y2"}}},
  {"data":{"name":"arrows"},"transform":[{"filter":"datum.p=='b5'"},{"calculate":"atan2((datum.x2-datum.x)*0.992,(datum.y2-datum.y)*129.3)*180/PI","as":"ang"},{"calculate":"datum.x2","as":"x"},{"calculate":"datum.y2","as":"y"}],"mark":{"type":"point","shape":"triangle-up","filled":true,"color":"#222","size":18,"opacity":1},"encoding":{"angle":{"field":"ang","type":"quantitative","scale":null}}},
  {"data":{"name":"hc"},"transform":[{"filter":"datum.p=='b5'"}],"mark":{"type":"rule","strokeWidth":1.8},"encoding":{"x2":{"field":"x2"},"color":{"field":"d","type":"nominal","scale":{"domain":["Heating","Cooling"],"range":["#e8161b","#1515d8"]},"legend":null}}},
  {"data":{"name":"hc"},"transform":[{"filter":"datum.p=='b5'"},{"calculate":"datum.x2","as":"x"}],"mark":{"type":"point","filled":true,"size":45,"opacity":1},"encoding":{"color":{"field":"d","type":"nominal","scale":{"domain":["Heating","Cooling"],"range":["#e8161b","#1515d8"]},"legend":null},"shape":{"field":"d","type":"nominal","scale":{"domain":["Heating","Cooling"],"range":["triangle-right","triangle-left"]},"legend":null}}},
  {"data":{"name":"ht"},"transform":[{"filter":"datum.p=='b5'"}],"mark":{"type":"text","fontSize":14},"encoding":{"text":{"field":"d"},"color":{"field":"d","type":"nominal","scale":{"domain":["Heating","Cooling"],"range":["#e8161b","#1515d8"]},"legend":null}}},
  {"data":{"name":"labs"},"transform":[{"filter":"datum.p=='b5' && datum.pre"}],"mark":{"type":"text","align":"right","dx":-7},"encoding":{"text":{"field":"pre"}}},
  {"data":{"name":"labs"},"transform":[{"filter":"datum.p=='b5' && datum.sub"}],"mark":{"type":"text","align":"left","dx":-7,"dy":4,"fontSize":9},"encoding":{"text":{"field":"sub"}}},
  {"data":{"name":"labs"},"transform":[{"filter":"datum.p=='b5'"}],"mark":{"type":"text","align":"left"},"encoding":{"text":{"field":"t"}}},
  {"data":{"name":"tags"},"transform":[{"filter":"datum.p=='b5'"}],"mark":{"type":"text","align":"right","font":"Noto Sans CJK KR","fontWeight":"bold","fontSize":18},"encoding":{"text":{"field":"a"}}},
  {"data":{"name":"tags"},"transform":[{"filter":"datum.p=='b5'"}],"mark":{"type":"text","align":"left","fontSize":15,"dy":2},"encoding":{"text":{"field":"b"}}}
 ]},
{"width":248,"height":181,
 "encoding":{"x":{"field":"x","type":"quantitative","scale":{"domain":[0,250],"nice":false},"axis":{"values":[0,50,100,150,200,250],"title":null}},
  "y":{"field":"y","type":"quantitative","scale":{"domain":[-0.4,0.4],"nice":false,"zero":false},"axis":{"values":[-0.4,-0.2,0,0.2,0.4],"labelExpr":"replace(format(datum.value,'.1f'),'\u2212','-')","title":null}}},
 "layer":[
  {"data":{"name":"curves"},"transform":[{"filter":"datum.p=='c5'"}],"mark":{"type":"line","color":"#111","strokeWidth":1.3},"encoding":{"detail":{"field":"s"}}},
  {"data":{"name":"arrows"},"transform":[{"filter":"datum.p=='c5'"}],"mark":{"type":"rule","color":"#222","strokeWidth":1},"encoding":{"x2":{"field":"x2"},"y2":{"field":"y2"}}},
  {"data":{"name":"arrows"},"transform":[{"filter":"datum.p=='c5'"},{"calculate":"atan2((datum.x2-datum.x)*0.992,(datum.y2-datum.y)*226.3)*180/PI","as":"ang"},{"calculate":"datum.x2","as":"x"},{"calculate":"datum.y2","as":"y"}],"mark":{"type":"point","shape":"triangle-up","filled":true,"color":"#222","size":18,"opacity":1},"encoding":{"angle":{"field":"ang","type":"quantitative","scale":null}}},
  {"data":{"name":"hc"},"transform":[{"filter":"datum.p=='c5'"}],"mark":{"type":"rule","strokeWidth":1.8},"encoding":{"x2":{"field":"x2"},"color":{"field":"d","type":"nominal","scale":{"domain":["Heating","Cooling"],"range":["#e8161b","#1515d8"]},"legend":null}}},
  {"data":{"name":"hc"},"transform":[{"filter":"datum.p=='c5'"},{"calculate":"datum.x2","as":"x"}],"mark":{"type":"point","filled":true,"size":45,"opacity":1},"encoding":{"color":{"field":"d","type":"nominal","scale":{"domain":["Heating","Cooling"],"range":["#e8161b","#1515d8"]},"legend":null},"shape":{"field":"d","type":"nominal","scale":{"domain":["Heating","Cooling"],"range":["triangle-right","triangle-left"]},"legend":null}}},
  {"data":{"name":"ht"},"transform":[{"filter":"datum.p=='c5'"}],"mark":{"type":"text","fontSize":14},"encoding":{"text":{"field":"d"},"color":{"field":"d","type":"nominal","scale":{"domain":["Heating","Cooling"],"range":["#e8161b","#1515d8"]},"legend":null}}},
  {"data":{"name":"labs"},"transform":[{"filter":"datum.p=='c5' && datum.pre"}],"mark":{"type":"text","align":"right","dx":-7},"encoding":{"text":{"field":"pre"}}},
  {"data":{"name":"labs"},"transform":[{"filter":"datum.p=='c5' && datum.sub"}],"mark":{"type":"text","align":"left","dx":-7,"dy":4,"fontSize":9},"encoding":{"text":{"field":"sub"}}},
  {"data":{"name":"labs"},"transform":[{"filter":"datum.p=='c5'"}],"mark":{"type":"text","align":"left"},"encoding":{"text":{"field":"t"}}},
  {"data":{"name":"tags"},"transform":[{"filter":"datum.p=='c5'"}],"mark":{"type":"text","align":"right","font":"Noto Sans CJK KR","fontWeight":"bold","fontSize":18},"encoding":{"text":{"field":"a"}}},
  {"data":{"name":"tags"},"transform":[{"filter":"datum.p=='c5'"}],"mark":{"type":"text","align":"left","fontSize":15,"dy":2},"encoding":{"text":{"field":"b"}}}
 ]}
],"spacing":26,"bounds":"flush"},
{"hconcat":[
{"width":248,"height":181,
 "encoding":{"x":{"field":"x","type":"quantitative","scale":{"domain":[0,250],"nice":false},"axis":{"values":[0,50,100,150,200,250],"title":"Temperature (℃)"}},
  "y":{"field":"y","type":"quantitative","scale":{"domain":[-0.7,0.7],"nice":false,"zero":false},"axis":{"values":[-0.6,-0.4,-0.2,0,0.2,0.4,0.6],"labelExpr":"replace(format(datum.value,'.1f'),'\u2212','-')","title":"Heat flow (W/g)"}}},
 "layer":[
  {"data":{"name":"curves"},"transform":[{"filter":"datum.p=='a20'"}],"mark":{"type":"line","color":"#111","strokeWidth":1.3},"encoding":{"detail":{"field":"s"}}},
  {"data":{"name":"arrows"},"transform":[{"filter":"datum.p=='a20'"}],"mark":{"type":"rule","color":"#222","strokeWidth":1},"encoding":{"x2":{"field":"x2"},"y2":{"field":"y2"}}},
  {"data":{"name":"arrows"},"transform":[{"filter":"datum.p=='a20'"},{"calculate":"atan2((datum.x2-datum.x)*0.992,(datum.y2-datum.y)*129.3)*180/PI","as":"ang"},{"calculate":"datum.x2","as":"x"},{"calculate":"datum.y2","as":"y"}],"mark":{"type":"point","shape":"triangle-up","filled":true,"color":"#222","size":18,"opacity":1},"encoding":{"angle":{"field":"ang","type":"quantitative","scale":null}}},
  {"data":{"name":"hc"},"transform":[{"filter":"datum.p=='a20'"}],"mark":{"type":"rule","strokeWidth":1.8},"encoding":{"x2":{"field":"x2"},"color":{"field":"d","type":"nominal","scale":{"domain":["Heating","Cooling"],"range":["#e8161b","#1515d8"]},"legend":null}}},
  {"data":{"name":"hc"},"transform":[{"filter":"datum.p=='a20'"},{"calculate":"datum.x2","as":"x"}],"mark":{"type":"point","filled":true,"size":45,"opacity":1},"encoding":{"color":{"field":"d","type":"nominal","scale":{"domain":["Heating","Cooling"],"range":["#e8161b","#1515d8"]},"legend":null},"shape":{"field":"d","type":"nominal","scale":{"domain":["Heating","Cooling"],"range":["triangle-right","triangle-left"]},"legend":null}}},
  {"data":{"name":"ht"},"transform":[{"filter":"datum.p=='a20'"}],"mark":{"type":"text","fontSize":14},"encoding":{"text":{"field":"d"},"color":{"field":"d","type":"nominal","scale":{"domain":["Heating","Cooling"],"range":["#e8161b","#1515d8"]},"legend":null}}},
  {"data":{"name":"labs"},"transform":[{"filter":"datum.p=='a20' && datum.pre"}],"mark":{"type":"text","align":"right","dx":-7},"encoding":{"text":{"field":"pre"}}},
  {"data":{"name":"labs"},"transform":[{"filter":"datum.p=='a20' && datum.sub"}],"mark":{"type":"text","align":"left","dx":-7,"dy":4,"fontSize":9},"encoding":{"text":{"field":"sub"}}},
  {"data":{"name":"labs"},"transform":[{"filter":"datum.p=='a20'"}],"mark":{"type":"text","align":"left"},"encoding":{"text":{"field":"t"}}},
  {"data":{"name":"tags"},"transform":[{"filter":"datum.p=='a20'"}],"mark":{"type":"text","align":"right","font":"Noto Sans CJK KR","fontWeight":"bold","fontSize":18},"encoding":{"text":{"field":"a"}}},
  {"data":{"name":"tags"},"transform":[{"filter":"datum.p=='a20'"}],"mark":{"type":"text","align":"left","fontSize":15,"dy":2},"encoding":{"text":{"field":"b"}}}
 ]},
{"width":248,"height":181,
 "encoding":{"x":{"field":"x","type":"quantitative","scale":{"domain":[0,250],"nice":false},"axis":{"values":[0,50,100,150,200,250],"title":"Temperature (℃)"}},
  "y":{"field":"y","type":"quantitative","scale":{"domain":[-0.7,0.7],"nice":false,"zero":false},"axis":{"values":[-0.6,-0.4,-0.2,0,0.2,0.4,0.6],"labelExpr":"replace(format(datum.value,'.1f'),'\u2212','-')","title":null}}},
 "layer":[
  {"data":{"name":"curves"},"transform":[{"filter":"datum.p=='b20'"}],"mark":{"type":"line","color":"#111","strokeWidth":1.3},"encoding":{"detail":{"field":"s"}}},
  {"data":{"name":"arrows"},"transform":[{"filter":"datum.p=='b20'"}],"mark":{"type":"rule","color":"#222","strokeWidth":1},"encoding":{"x2":{"field":"x2"},"y2":{"field":"y2"}}},
  {"data":{"name":"arrows"},"transform":[{"filter":"datum.p=='b20'"},{"calculate":"atan2((datum.x2-datum.x)*0.992,(datum.y2-datum.y)*129.3)*180/PI","as":"ang"},{"calculate":"datum.x2","as":"x"},{"calculate":"datum.y2","as":"y"}],"mark":{"type":"point","shape":"triangle-up","filled":true,"color":"#222","size":18,"opacity":1},"encoding":{"angle":{"field":"ang","type":"quantitative","scale":null}}},
  {"data":{"name":"hc"},"transform":[{"filter":"datum.p=='b20'"}],"mark":{"type":"rule","strokeWidth":1.8},"encoding":{"x2":{"field":"x2"},"color":{"field":"d","type":"nominal","scale":{"domain":["Heating","Cooling"],"range":["#e8161b","#1515d8"]},"legend":null}}},
  {"data":{"name":"hc"},"transform":[{"filter":"datum.p=='b20'"},{"calculate":"datum.x2","as":"x"}],"mark":{"type":"point","filled":true,"size":45,"opacity":1},"encoding":{"color":{"field":"d","type":"nominal","scale":{"domain":["Heating","Cooling"],"range":["#e8161b","#1515d8"]},"legend":null},"shape":{"field":"d","type":"nominal","scale":{"domain":["Heating","Cooling"],"range":["triangle-right","triangle-left"]},"legend":null}}},
  {"data":{"name":"ht"},"transform":[{"filter":"datum.p=='b20'"}],"mark":{"type":"text","fontSize":14},"encoding":{"text":{"field":"d"},"color":{"field":"d","type":"nominal","scale":{"domain":["Heating","Cooling"],"range":["#e8161b","#1515d8"]},"legend":null}}},
  {"data":{"name":"labs"},"transform":[{"filter":"datum.p=='b20' && datum.pre"}],"mark":{"type":"text","align":"right","dx":-7},"encoding":{"text":{"field":"pre"}}},
  {"data":{"name":"labs"},"transform":[{"filter":"datum.p=='b20' && datum.sub"}],"mark":{"type":"text","align":"left","dx":-7,"dy":4,"fontSize":9},"encoding":{"text":{"field":"sub"}}},
  {"data":{"name":"labs"},"transform":[{"filter":"datum.p=='b20'"}],"mark":{"type":"text","align":"left"},"encoding":{"text":{"field":"t"}}},
  {"data":{"name":"tags"},"transform":[{"filter":"datum.p=='b20'"}],"mark":{"type":"text","align":"right","font":"Noto Sans CJK KR","fontWeight":"bold","fontSize":18},"encoding":{"text":{"field":"a"}}},
  {"data":{"name":"tags"},"transform":[{"filter":"datum.p=='b20'"}],"mark":{"type":"text","align":"left","fontSize":15,"dy":2},"encoding":{"text":{"field":"b"}}}
 ]},
{"width":248,"height":181,
 "encoding":{"x":{"field":"x","type":"quantitative","scale":{"domain":[0,250],"nice":false},"axis":{"values":[0,50,100,150,200,250],"title":"Temperature (℃)"}},
  "y":{"field":"y","type":"quantitative","scale":{"domain":[-0.6,0.6],"nice":false,"zero":false},"axis":{"values":[-0.6,-0.4,-0.2,0,0.2,0.4,0.6],"labelExpr":"replace(format(datum.value,'.1f'),'\u2212','-')","title":null}}},
 "layer":[
  {"data":{"name":"curves"},"transform":[{"filter":"datum.p=='c20'"}],"mark":{"type":"line","color":"#111","strokeWidth":1.3},"encoding":{"detail":{"field":"s"}}},
  {"data":{"name":"arrows"},"transform":[{"filter":"datum.p=='c20'"}],"mark":{"type":"rule","color":"#222","strokeWidth":1},"encoding":{"x2":{"field":"x2"},"y2":{"field":"y2"}}},
  {"data":{"name":"arrows"},"transform":[{"filter":"datum.p=='c20'"},{"calculate":"atan2((datum.x2-datum.x)*0.992,(datum.y2-datum.y)*150.8)*180/PI","as":"ang"},{"calculate":"datum.x2","as":"x"},{"calculate":"datum.y2","as":"y"}],"mark":{"type":"point","shape":"triangle-up","filled":true,"color":"#222","size":18,"opacity":1},"encoding":{"angle":{"field":"ang","type":"quantitative","scale":null}}},
  {"data":{"name":"hc"},"transform":[{"filter":"datum.p=='c20'"}],"mark":{"type":"rule","strokeWidth":1.8},"encoding":{"x2":{"field":"x2"},"color":{"field":"d","type":"nominal","scale":{"domain":["Heating","Cooling"],"range":["#e8161b","#1515d8"]},"legend":null}}},
  {"data":{"name":"hc"},"transform":[{"filter":"datum.p=='c20'"},{"calculate":"datum.x2","as":"x"}],"mark":{"type":"point","filled":true,"size":45,"opacity":1},"encoding":{"color":{"field":"d","type":"nominal","scale":{"domain":["Heating","Cooling"],"range":["#e8161b","#1515d8"]},"legend":null},"shape":{"field":"d","type":"nominal","scale":{"domain":["Heating","Cooling"],"range":["triangle-right","triangle-left"]},"legend":null}}},
  {"data":{"name":"ht"},"transform":[{"filter":"datum.p=='c20'"}],"mark":{"type":"text","fontSize":14},"encoding":{"text":{"field":"d"},"color":{"field":"d","type":"nominal","scale":{"domain":["Heating","Cooling"],"range":["#e8161b","#1515d8"]},"legend":null}}},
  {"data":{"name":"labs"},"transform":[{"filter":"datum.p=='c20' && datum.pre"}],"mark":{"type":"text","align":"right","dx":-7},"encoding":{"text":{"field":"pre"}}},
  {"data":{"name":"labs"},"transform":[{"filter":"datum.p=='c20' && datum.sub"}],"mark":{"type":"text","align":"left","dx":-7,"dy":4,"fontSize":9},"encoding":{"text":{"field":"sub"}}},
  {"data":{"name":"labs"},"transform":[{"filter":"datum.p=='c20'"}],"mark":{"type":"text","align":"left"},"encoding":{"text":{"field":"t"}}},
  {"data":{"name":"tags"},"transform":[{"filter":"datum.p=='c20'"}],"mark":{"type":"text","align":"right","font":"Noto Sans CJK KR","fontWeight":"bold","fontSize":18},"encoding":{"text":{"field":"a"}}},
  {"data":{"name":"tags"},"transform":[{"filter":"datum.p=='c20'"}],"mark":{"type":"text","align":"left","fontSize":15,"dy":2},"encoding":{"text":{"field":"b"}}}
 ]}
],"spacing":26,"bounds":"flush"}
],"spacing":5
}
